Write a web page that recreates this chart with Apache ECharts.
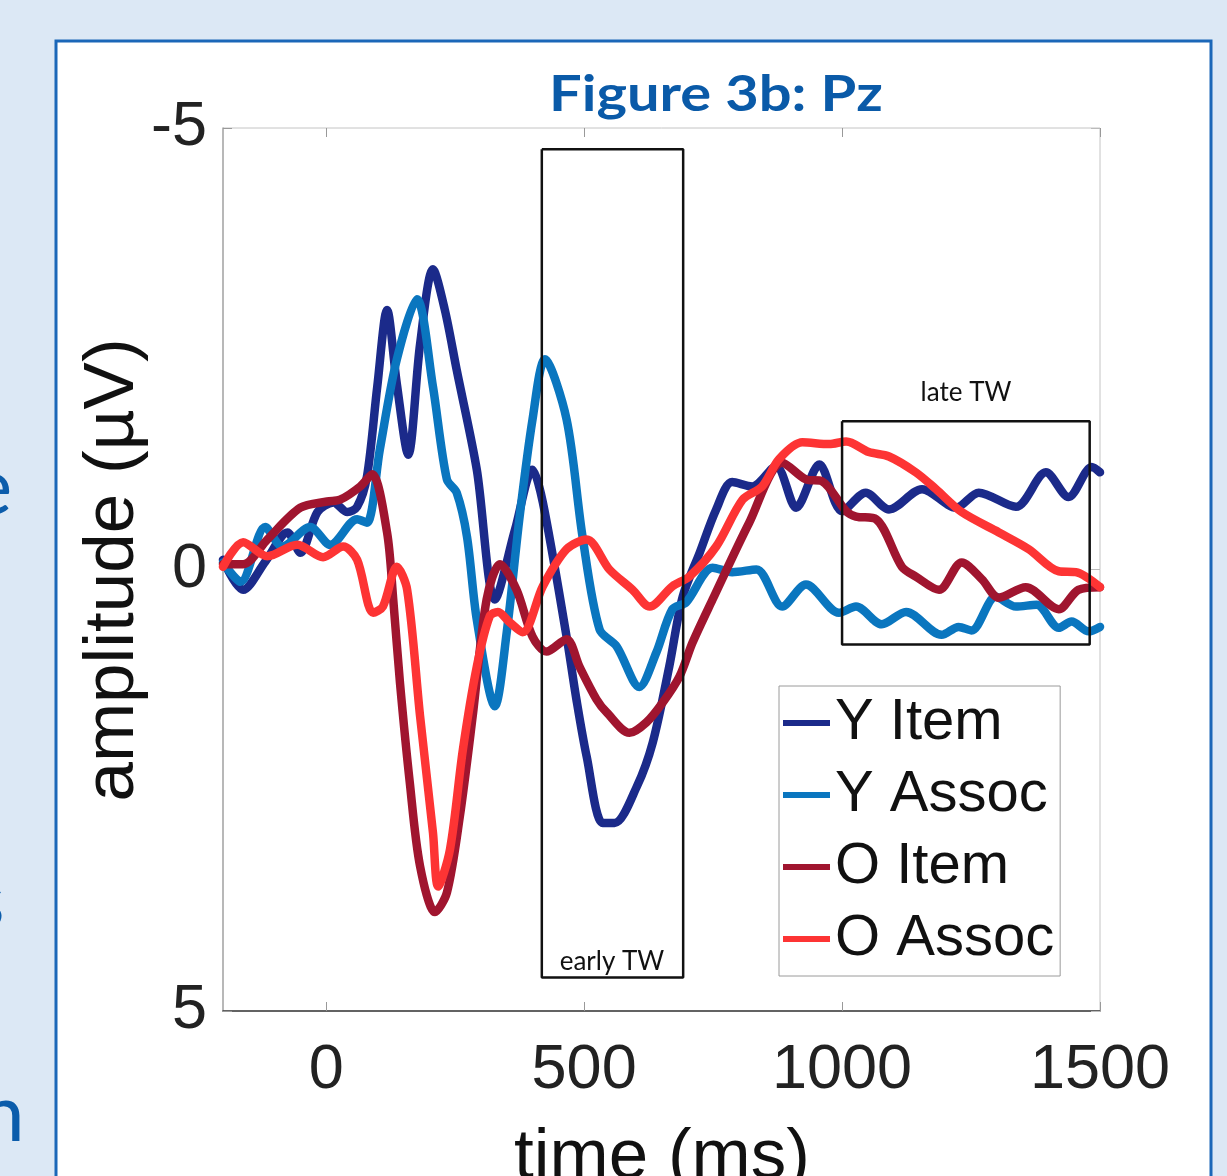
<!DOCTYPE html>
<html>
<head>
<meta charset="utf-8">
<script src="https://cdn.jsdelivr.net/npm/echarts@6/dist/echarts.min.js"></script>
<style>
html,body{margin:0;padding:0;background:#dce8f5;}
#chart{width:1227px;height:1176px;}
</style>
</head>
<body>
<div id="chart"></div>
<script>
// ---- data (time in ms, amplitude in µV; negative plotted upward) ----
const seriesNames = ['Y Item', 'Y Assoc', 'O Item', 'O Assoc'];
const xTickValues = [0, 500, 1000, 1500];
const yTickValues = [-5, 0, 5];

const yItemT = [-200,-161,-118,-75,-50,-17,14,41,60,79,99,118,137,159,182,207,230,253,292,327,366,400,420,466,485,505,536,559,602,633,665,691,724,756,787,826,872,911,956,1000,1046,1091,1155,1221,1265,1337,1395,1439,1484,1500];
const yItemV = [-0.11,0.23,-0.09,-0.42,-0.19,-0.65,-0.76,-0.65,-0.71,-1.05,-2.07,-2.94,-2.10,-1.30,-2.55,-3.40,-2.94,-2.26,-1.13,0.34,-0.45,-1.13,-0.76,0.76,1.47,2.12,2.87,2.87,2.46,1.96,1.10,0.31,-0.19,-0.68,-0.99,-0.94,-1.17,-0.70,-1.19,-0.66,-0.87,-0.68,-0.91,-0.70,-0.87,-0.71,-1.10,-0.82,-1.16,-1.10];

const yAssocT = [-200,-166,-118,-85,-31,8,60,79,104,137,176,207,234,253,273,292,327,350,375,400,424,466,497,530,563,607,640,671,698,749,787,834,884,930,994,1027,1077,1124,1193,1226,1251,1298,1337,1377,1420,1445,1478,1500];
const yAssocV = [-0.08,0.14,-0.48,-0.26,-0.48,-0.28,-0.57,-0.53,-1.36,-2.38,-3.06,-2.07,-1.02,-0.87,-0.37,0.57,1.55,0.71,-0.60,-1.70,-2.38,-1.70,-0.37,0.68,0.87,1.33,0.94,0.45,0.37,-0.02,0.03,0.00,0.42,0.17,0.49,0.42,0.62,0.48,0.74,0.65,0.69,0.31,0.42,0.40,0.66,0.59,0.70,0.65];

const oItemT = [-200,-161,-114,-50,2,27,66,89,118,130,143,162,182,211,234,259,284,311,337,369,400,427,466,491,524,544,588,621,652,685,710,749,820,884,930,961,1008,1027,1066,1116,1143,1188,1232,1271,1304,1356,1420,1458,1500];
const oItemV = [-0.06,-0.06,-0.34,-0.70,-0.77,-0.79,-0.94,-1.08,-0.42,0.34,1.28,2.41,3.36,3.88,3.66,2.80,1.66,0.34,-0.06,0.23,0.76,0.93,0.79,1.10,1.47,1.62,1.85,1.73,1.51,1.21,0.83,0.34,-0.53,-1.21,-1.02,-1.00,-0.66,-0.60,-0.57,-0.03,0.08,0.23,-0.08,0.11,0.32,0.20,0.45,0.23,0.20];

const oAssocT = [-200,-161,-114,-56,-6,33,60,91,110,137,157,182,207,217,240,265,292,317,333,356,381,420,466,505,549,594,627,671,704,756,807,845,878,923,975,1008,1052,1091,1143,1182,1232,1304,1362,1420,1453,1500];
const oAssocV = [-0.03,-0.31,-0.15,-0.28,-0.14,-0.26,-0.11,0.49,0.42,-0.03,0.23,1.66,2.98,3.59,3.17,2.04,1.10,0.53,0.48,0.60,0.71,0.19,-0.23,-0.34,0.00,0.23,0.42,0.19,0.08,-0.26,-0.79,-0.94,-1.25,-1.44,-1.42,-1.45,-1.33,-1.28,-1.10,-0.91,-0.65,-0.42,-0.23,0.02,0.03,0.20];

// time windows (ms) and their drawn amplitude extents (µV)
const earlyTW = [418, 692];
const earlyAmp = [-4.76, 4.62];
const lateTW = [1000, 1480];
const lateAmp = [-1.68, 0.85];

const colors = ['#1b2a8a', '#0a76bf', '#a0152f', '#fd3434'];

function zip(t, v) { return t.map((x, i) => [x, v[i]]); }
function boxPath(tw, amp) {
  return [[tw[0], amp[0]], [tw[1], amp[0]], [tw[1], amp[1]], [tw[0], amp[1]], [tw[0], amp[0]]];
}

const chart = echarts.init(document.getElementById('chart'), null, {renderer: 'canvas'});

const FONT = '"Liberation Sans", Arial, sans-serif';
const CAL = 'Lato, "Open Sans", sans-serif';

const curveData = [zip(yItemT, yItemV), zip(yAssocT, yAssocV), zip(oItemT, oItemV), zip(oAssocT, oAssocV)];

const series = seriesNames.map((n, i) => ({
  name: n,
  type: 'line',
  data: curveData[i],
  showSymbol: false,
  smooth: 0.3,
  color: colors[i],
  lineStyle: {width: 8.5, color: colors[i], cap: 'round', join: 'round'},
  z: 3 + i * 0.01,
  silent: true
}));

series.push({
  name: 'earlyBox', type: 'line', data: boxPath(earlyTW, earlyAmp),
  showSymbol: false, silent: true, z: 6,
  lineStyle: {width: 2.5, color: '#111'}
});
series.push({
  name: 'lateBox', type: 'line', data: boxPath(lateTW, lateAmp),
  showSymbol: false, silent: true, z: 6,
  lineStyle: {width: 2.5, color: '#111'}
});

const plainLabel = v => String(v);

const option = {
  backgroundColor: '#dce8f5',
  animation: false,
  grid: {
    left: 223, top: 128, width: 877, height: 883,
    show: true, backgroundColor: '#ffffff', borderColor: '#c4c4c4', borderWidth: 1
  },
  xAxis: [{
    type: 'value', min: -200, max: 1500, position: 'bottom',
    axisLine: {show: true, onZero: false, lineStyle: {color: '#3a3a3a', width: 1.5}},
    axisTick: {show: true, inside: true, length: 9, customValues: xTickValues, lineStyle: {color: '#999'}},
    axisLabel: {show: true, customValues: xTickValues, formatter: plainLabel, fontSize: 63, fontFamily: FONT, color: '#222', margin: 28},
    splitLine: {show: false}
  }, {
    type: 'value', min: -200, max: 1500, position: 'top',
    axisLine: {show: false, onZero: false},
    axisTick: {show: true, inside: true, length: 9, customValues: xTickValues, lineStyle: {color: '#999'}},
    axisLabel: {show: false},
    splitLine: {show: false}
  }],
  yAxis: [{
    type: 'value', min: -5, max: 5, interval: 5, inverse: true, position: 'left',
    axisLine: {show: true, onZero: false, lineStyle: {color: '#aaaaaa', width: 1.5}},
    axisTick: {show: true, inside: true, length: 9, customValues: yTickValues, lineStyle: {color: '#999'}},
    axisLabel: {show: true, customValues: yTickValues, formatter: plainLabel, fontSize: 63, fontFamily: FONT, color: '#222', margin: 16},
    splitLine: {show: false}
  }, {
    type: 'value', min: -5, max: 5, interval: 5, inverse: true, position: 'right',
    axisLine: {show: false, onZero: false},
    axisTick: {show: true, inside: true, length: 9, customValues: yTickValues, lineStyle: {color: '#bbb'}},
    axisLabel: {show: false},
    splitLine: {show: false}
  }],
  legend: {
    data: seriesNames,
    orient: 'vertical',
    left: 779, top: 686,
    icon: 'rect', itemWidth: 47, itemHeight: 6, itemGap: 12,
    padding: [7, 6, 7, 4],
    backgroundColor: '#ffffff', borderColor: '#9a9a9a', borderWidth: 1,
    textStyle: {fontSize: 58, fontFamily: FONT, color: '#111', lineHeight: 60, padding: [0, 0, 0, 0]},
    selectedMode: false
  },
  graphic: [
    {type: 'rect', z: -100, silent: true, shape: {x: 56, y: 41, width: 1155, height: 1200},
     style: {fill: '#ffffff', stroke: '#1b67b8', lineWidth: 3}},
    {type: 'text', z: -99, silent: true, x: -30, y: 448, style: {text: 'e', font: '80px ' + CAL, fill: '#0b5cab'}},
    {type: 'text', z: -99, silent: true, x: -30, y: 862, style: {text: 's', font: '80px ' + CAL, fill: '#0b5cab'}},
    {type: 'text', z: -99, silent: true, x: -20, y: 1075, style: {text: 'n', font: '80px ' + CAL, fill: '#0b5cab'}},
    {type: 'text', z: 10, silent: true, x: 716, y: 95, scaleX: 1.18, style: {text: 'Figure 3b: Pz', font: 'bold 49px ' + CAL, fill: '#0a5aa8', textAlign: 'center', textVerticalAlign: 'middle'}},
    {type: 'text', z: 10, silent: true, x: 662, y: 1158, style: {text: 'time (ms)', font: '71px ' + FONT, fill: '#111', textAlign: 'center', textVerticalAlign: 'middle'}},
    {type: 'text', z: 10, silent: true, x: 113, y: 570, rotation: Math.PI / 2, style: {text: 'amplitude (µV)', font: '71px ' + FONT, fill: '#111', textAlign: 'center', textVerticalAlign: 'middle'}},
    {type: 'text', z: 10, silent: true, x: 612, y: 962, style: {text: 'early TW', font: '26px ' + CAL, fill: '#111', textAlign: 'center', textVerticalAlign: 'middle'}},
    {type: 'text', z: 10, silent: true, x: 966, y: 393, style: {text: 'late TW', font: '26px ' + CAL, fill: '#111', textAlign: 'center', textVerticalAlign: 'middle'}}
  ],
  series: series
};
chart.setOption(option);
</script>
</body>
</html>
